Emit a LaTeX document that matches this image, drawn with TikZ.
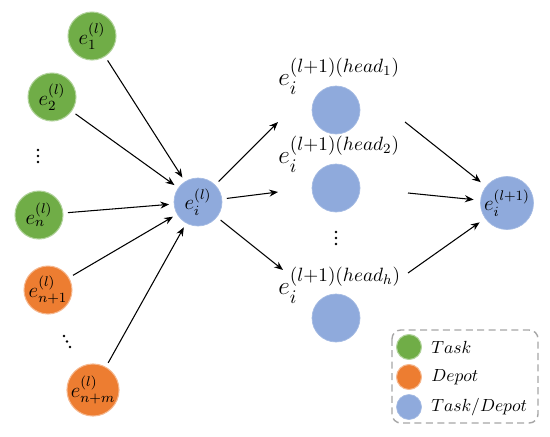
\documentclass[tikz,border=0pt]{standalone}
\usepackage{amsmath}
\usepackage{amssymb}
\usepackage{tikz}
\usepackage{xcolor}
\usetikzlibrary{arrows.meta}

\definecolor{taskgreen}{HTML}{70AD47}
\definecolor{depotorange}{HTML}{ED7D31}
\definecolor{mixblue}{HTML}{8FAADC}

\tikzset{
  dot/.style={circle, inner sep=0pt, minimum size=0.96cm, outer sep=0.1cm, font=\large},
  task/.style={dot, fill=taskgreen, draw=taskgreen!55!white, line width=0.6pt},
  depot/.style={dot, fill=depotorange, draw=depotorange!55!white, line width=0.6pt},
  mixed/.style={dot, fill=mixblue, draw=mixblue!80!white, line width=0.4pt},
  headlabel/.style={anchor=west, inner sep=0pt, font=\fontsize{15.5}{18}\selectfont},
  legtext/.style={anchor=west, inner sep=0pt},
  link/.style={-{Stealth[length=5pt,width=4pt]}, line width=0.6pt},
  legendbox/.style={draw=black!35, dash pattern=on 4pt off 2.5pt, line width=0.8pt, rounded corners=5pt}
}

\begin{document}
\begin{tikzpicture}[x=0.02cm, y=-0.02cm]
  \useasboundingbox (0,0) rectangle (550,436);

  % input embeddings
  \node[task] (e1) at (92,36) {$e_1^{(l)}$};
  \node[task] (e2) at (52,97) {$e_2^{(l)}$};
  \node[task] (en) at (39,215) {$e_n^{(l)}$};
  \node[depot] (en1) at (48,290) {$e_{n+1}^{(l)}$};
  \node[depot] (enm) at (93,390) {$e_{n+m}^{(l)}$};

  \node[mixed] (ei) at (198,202) {$e_i^{(l)}$};

  % dots
  \foreach \k in {0,1,2} {
    \fill (38,150+6*\k) circle (1.3);
    \fill (64+3*\k,336+5.5*\k) circle (1.3);
    \fill (336,232+6*\k) circle (1.3);
  }

  % heads
  \node[headlabel] (hl1) at (278,76) {$e_i^{(l+1)(head_1)}$};
  \node[mixed] (hc1) at (336,110) {};
  \node[headlabel] (hl2) at (278,154) {$e_i^{(l+1)(head_2)}$};
  \node[mixed] (hc2) at (336,188) {};
  \node[headlabel] (hlh) at (278,285) {$e_i^{(l+1)(head_h)}$};
  \node[mixed] (hch) at (336,318) {};

  \coordinate (h1in) at (278,122);
  \coordinate (h1out) at (405,122);
  \coordinate (h2in) at (278,192);
  \coordinate (h2out) at (408,193);
  \coordinate (hhin) at (283,270);
  \coordinate (hhout) at (408,273);

  \node[mixed, outer sep=0.14cm] (out) at (507,203) {$e_i^{(l+1)}$};

  % connectors
  \draw[link] (e1) -- (ei);
  \draw[link] (e2) -- (ei);
  \draw[link] (en) -- (ei);
  \draw[link] (en1) -- (ei);
  \draw[link] (enm) -- (ei);
  \draw[link] (ei) -- (h1in);
  \draw[link] (ei) -- (h2in);
  \draw[link] (ei) -- (hhin);
  \draw[link] (h1out) -- (out);
  \draw[link] (h2out) -- (out);
  \draw[link] (hhout) -- (out);

  % legend
  \draw[legendbox] (392,330) rectangle (538,423);
  \node[task, minimum size=0.5cm, outer sep=0pt] (lg1) at (409,347) {};
  \node[depot, minimum size=0.5cm, outer sep=0pt] (lg2) at (409,377) {};
  \node[mixed, minimum size=0.5cm, outer sep=0pt] (lg3) at (409,407) {};
  \node[legtext] (lt1) at (431,347) {$Task$};
  \node[legtext] (lt2) at (431,377) {$Depot$};
  \node[legtext] (lt3) at (431,407) {$Task/Depot$};
\end{tikzpicture}
\end{document}
